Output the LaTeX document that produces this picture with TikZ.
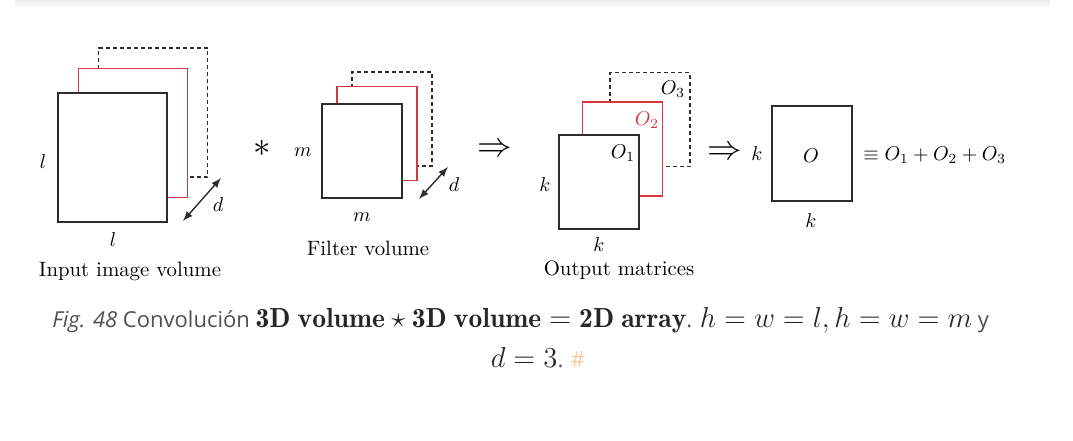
\documentclass[tikz,border=0pt]{standalone}
\usepackage{fontspec}
\newfontfamily\capfont{Open Sans}
\usetikzlibrary{positioning}

\definecolor{sheetred}{RGB}{214,56,64}
\definecolor{edgegray}{RGB}{45,45,45}
\definecolor{capgray}{RGB}{80,80,80}
\definecolor{hashorange}{RGB}{250,200,160}

\newcommand{\capsans}{\capfont\color{capgray}\fontsize{11}{13}\selectfont}
\newcommand{\capmath}{\color{black!85}\fontsize{13.8}{16}\selectfont}

\tikzset{
  sheet/.style={draw=edgegray, line width=0.75pt, fill=white, inner sep=0pt},
  redsheet/.style={sheet, draw=sheetred},
  backsheet/.style={sheet, dash pattern=on 2pt off 1.5pt},
  bigsheet/.style={minimum width=54.5pt, minimum height=64.5pt},
  smallsheet/.style={minimum width=40pt, minimum height=47pt},
  depth/.style={<->, >=latex, line width=0.7pt, edgegray}
}

\begin{document}
\begin{tikzpicture}[x=0.5pt,y=-0.5pt,every node/.style={font=\fontsize{10.4}{12.5}\selectfont}]
	\useasboundingbox (0,0) rectangle (1073,440);
	% card shadow
	\shade[top color=black!7, bottom color=white] (15,0) rectangle (1050,8);

	% input image volume
	\node[backsheet, bigsheet] (in3) at (153,112.5) {};
	\node[redsheet, bigsheet] (in2) at (133,133) {};
	\node[sheet, bigsheet] (in1) at (112.5,157.5) {};
	\coordinate (ina) at (183,221);
	\coordinate (inb) at (221,178);
	\draw[depth] (ina) -- (inb);
	\node (inl) at (43,162) {$l$};
	\node (inlb) at (113,240) {$l$};
	\node (ind) at (218,205) {$d$};
	\node (intitle) at (130,271) {Input image volume};

	% convolution sign
	\node[font=\fontsize{18}{20}\selectfont] (conv) at (262,148) {$\ast$};

	% filter volume
	\node[backsheet, smallsheet] (fi3) at (392,119) {};
	\node[redsheet, smallsheet] (fi2) at (377,133.5) {};
	\node[sheet, smallsheet] (fi1) at (362,151) {};
	\coordinate (fia) at (419,199);
	\coordinate (fib) at (448,167);
	\draw[depth] (fia) -- (fib);
	\node (fim) at (303,152) {$m$};
	\node (fimb) at (362,217) {$m$};
	\node (fid) at (454,185) {$d$};
	\node (fititle) at (368,248) {Filter volume};

	\node[font=\fontsize{16}{18}\selectfont] (impl1) at (495,150) {$\Rightarrow$};

	% output matrices
	\node[backsheet, smallsheet] (out3) at (650,119.5) {};
	\node[redsheet, smallsheet] (out2) at (622.5,149) {};
	\node[sheet, smallsheet] (out1) at (599,182) {};
	\node (o1) at (623,153) {$O_1$};
	\node[text=sheetred] (o2) at (647,120) {$O_2$};
	\node (o3) at (673,89) {$O_3$};
	\node (outk) at (545,185) {$k$};
	\node (outkb) at (599,245) {$k$};
	\node (outtitle) at (619,270) {Output matrices};

	\node[font=\fontsize{16}{18}\selectfont] (impl2) at (725,153) {$\Rightarrow$};

	% summed output
	\node[sheet, smallsheet, minimum height=47.5pt] (sum) at (812,153.5) {};
	\node (o) at (811,156) {$O$};
	\node (sumk) at (757,154) {$k$};
	\node (sumkb) at (811,221) {$k$};
	\node[anchor=west, inner sep=0pt] (equiv) at (863,155) {$\equiv O_1+O_2+O_3$};

	% caption
	\node[anchor=base west, inner sep=0pt] (cap1) at (52,327) {\capsans
		\textit{Fig. 48} Convolución {\capmath$\mathbf{3D\ volume}\mkern4mu{\star}\mkern4mu\mathbf{3D\ volume}=\mathbf{2D\ array}$}.
		{\capmath$h=w=l,h=w=m$} y};
	\node[anchor=base, inner sep=0pt] (cap2) at (538,367) {\capsans
		{\capmath$d=3$}. \textcolor{hashorange}{\#}};
\end{tikzpicture}
\end{document}
